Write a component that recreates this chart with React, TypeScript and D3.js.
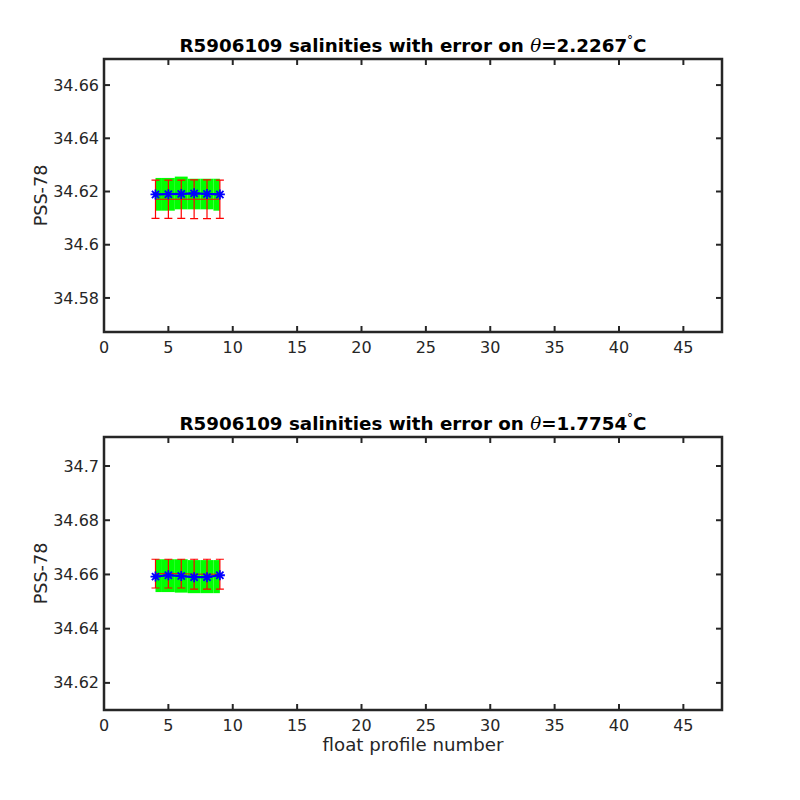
import React, { useEffect, useRef } from 'react'
import * as d3 from 'd3'

// float profile numbers
const profiles = [4, 5, 6, 7, 8, 9]

// panel 1 (theta = 2.2267)
const salinity1 = [34.6189, 34.619, 34.6191, 34.6193, 34.6191, 34.6189]
const mapped1 = [34.6171, 34.6171, 34.6171, 34.6171, 34.6171, 34.6171]
const mappedErr1 = [0.0072, 0.0072, 0.0072, 0.0073, 0.0073, 0.0072]
const fillUpper1 = [34.6251, 34.6251, 34.6256, 34.6248, 34.6248, 34.6248]
const fillLower1 = [34.6128, 34.6128, 34.6133, 34.6133, 34.6133, 34.6128]
const yTicks1 = [34.58, 34.6, 34.62, 34.64, 34.66]
const yDomain1 = [34.5672, 34.6698]

// panel 2 (theta = 1.7754)
const salinity2 = [34.6592, 34.6597, 34.6594, 34.659, 34.659, 34.6597]
const mapped2 = [34.6603, 34.6603, 34.6603, 34.6601, 34.6601, 34.6601]
const mappedErr2 = [0.0053, 0.0053, 0.0053, 0.0055, 0.0055, 0.0055]
const fillUpper2 = [34.6656, 34.6656, 34.6656, 34.6653, 34.6653, 34.6653]
const fillLower2 = [34.6535, 34.6535, 34.6533, 34.6531, 34.6531, 34.6531]
const yTicks2 = [34.62, 34.64, 34.66, 34.68, 34.7]
const yDomain2 = [34.61, 34.7107]

const xTicks = [0, 5, 10, 15, 20, 25, 30, 35, 40, 45]
const xDomain = [0, 48]

const floatName = 'R5906109'
const thetas = ['2.2267', '1.7754']

const AXIS = '#262626'
const FONT = 'DejaVu Sans, sans-serif'

function drawPanel(svg, top, opts) {
  const left = 104, right = 722, h = 273
  const x = d3.scaleLinear().domain(xDomain).range([left, right])
  const y = d3.scaleLinear().domain(opts.yDomain).range([top + h, top])
  const g = svg.append('g')
  const n = profiles.length

  // green band, one step per profile
  profiles.forEach((p, i) => {
    const x0 = i === 0 ? p : p - 0.5
    const x1 = i === n - 1 ? p : p + 0.5
    g.append('rect')
      .attr('x', x(x0)).attr('width', x(x1) - x(x0))
      .attr('y', y(opts.upper[i])).attr('height', y(opts.lower[i]) - y(opts.upper[i]))
      .attr('fill', '#00ff00')
  })

  // mapped salinity with error bars
  g.append('path')
    .datum(profiles.map((p, i) => [p, opts.mapped[i]]))
    .attr('d', d3.line().x(d => x(d[0])).y(d => y(d[1])))
    .attr('fill', 'none').attr('stroke', '#ff0000').attr('stroke-width', 1)
  profiles.forEach((p, i) => {
    const hi = y(opts.mapped[i] + opts.err[i]), lo = y(opts.mapped[i] - opts.err[i])
    const cx = x(p)
    g.append('path')
      .attr('d', `M${cx},${hi}V${lo}M${cx - 4},${hi}H${cx + 4}M${cx - 4},${lo}H${cx + 4}`)
      .attr('fill', 'none').attr('stroke', '#ff0000').attr('stroke-width', 1.2)
  })

  // float salinity
  g.append('path')
    .datum(profiles.map((p, i) => [p, opts.sal[i]]))
    .attr('d', d3.line().x(d => x(d[0])).y(d => y(d[1])))
    .attr('fill', 'none').attr('stroke', '#0000ff').attr('stroke-width', 2.2)
  profiles.forEach((p, i) => {
    const cx = x(p), cy = y(opts.sal[i]), r = 5, d = 3.6
    g.append('path')
      .attr('d', `M${cx - r},${cy}H${cx + r}M${cx},${cy - r}V${cy + r}M${cx - d},${cy - d}L${cx + d},${cy + d}M${cx - d},${cy + d}L${cx + d},${cy - d}`)
      .attr('fill', 'none').attr('stroke', '#0000ff').attr('stroke-width', 1.8)
  })

  // ticks on all four sides, pointing in
  const tk = 6
  xTicks.forEach(t => {
    g.append('line').attr('x1', x(t)).attr('x2', x(t)).attr('y1', top + h).attr('y2', top + h - tk)
      .attr('stroke', AXIS).attr('stroke-width', 2)
    g.append('line').attr('x1', x(t)).attr('x2', x(t)).attr('y1', top).attr('y2', top + tk)
      .attr('stroke', AXIS).attr('stroke-width', 2)
    g.append('text').attr('x', x(t)).attr('y', top + h + 21)
      .attr('text-anchor', 'middle').attr('font-family', FONT).attr('font-size', 16)
      .attr('fill', AXIS).text(t)
  })
  opts.yTicks.forEach(t => {
    g.append('line').attr('x1', left).attr('x2', left + tk).attr('y1', y(t)).attr('y2', y(t))
      .attr('stroke', AXIS).attr('stroke-width', 2)
    g.append('line').attr('x1', right).attr('x2', right - tk).attr('y1', y(t)).attr('y2', y(t))
      .attr('stroke', AXIS).attr('stroke-width', 2)
    g.append('text').attr('x', left - 5).attr('y', y(t)).attr('dy', '0.35em')
      .attr('text-anchor', 'end').attr('font-family', FONT).attr('font-size', 16)
      .attr('fill', AXIS).text(String(+t.toFixed(2)))
  })

  g.append('rect').attr('x', left).attr('y', top).attr('width', right - left).attr('height', h)
    .attr('fill', 'none').attr('stroke', AXIS).attr('stroke-width', 2.5)

  g.append('text')
    .attr('transform', `translate(41,${top + h / 2}) rotate(-90)`)
    .attr('dy', '0.35em')
    .attr('text-anchor', 'middle').attr('font-family', FONT).attr('font-size', 17.6)
    .attr('fill', AXIS).text('PSS-78')

  const title = g.append('text').attr('x', (left + right) / 2).attr('y', top - 7)
    .attr('text-anchor', 'middle').attr('font-family', FONT).attr('font-size', 18.3)
    .attr('font-weight', 'bold').attr('fill', '#000')
  title.append('tspan').text(`${floatName} salinities with error on `)
  title.append('tspan').attr('font-family', 'DejaVu Serif, serif').attr('font-style', 'italic')
    .attr('font-weight', 'normal').text('θ')
  title.append('tspan').text(`=${opts.theta}`)
  title.append('tspan').attr('dy', -8).attr('font-size', 12).attr('font-weight', 'normal').text('°')
  title.append('tspan').attr('dy', 8).text('C')

  if (opts.xlabel) {
    g.append('text').attr('x', (left + right) / 2).attr('y', top + h + 41)
      .attr('text-anchor', 'middle').attr('font-family', FONT).attr('font-size', 18.2)
      .attr('fill', AXIS).text('float profile number')
  }
}

export default function App() {
  const ref = useRef(null)
  useEffect(() => {
    const svg = d3.select(ref.current)
    svg.selectAll('*').remove()
    svg.append('rect').attr('width', 800).attr('height', 800).attr('fill', '#fff')
    drawPanel(svg, 59, {
      sal: salinity1, mapped: mapped1, err: mappedErr1, upper: fillUpper1, lower: fillLower1,
      yTicks: yTicks1, yDomain: yDomain1, theta: thetas[0]
    })
    drawPanel(svg, 437, {
      sal: salinity2, mapped: mapped2, err: mappedErr2, upper: fillUpper2, lower: fillLower2,
      yTicks: yTicks2, yDomain: yDomain2, theta: thetas[1], xlabel: true
    })
  }, [])
  return (
    <svg ref={ref} width={800} height={800}
      style={{ position: 'absolute', left: 0, top: 0, background: '#fff' }} />
  )
}
